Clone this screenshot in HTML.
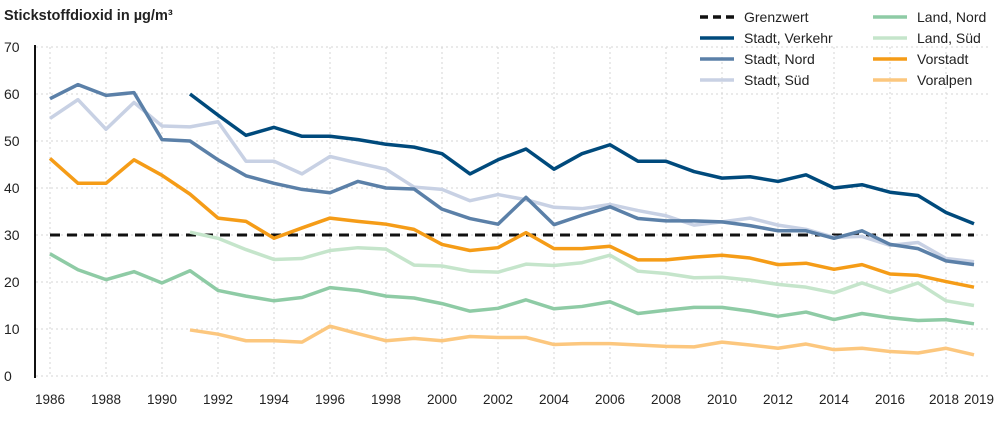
<!DOCTYPE html>
<html><head><meta charset="utf-8"><style>
body{margin:0;background:#fff;font-family:"Liberation Sans",sans-serif}
svg text{font-family:"Liberation Sans",sans-serif;fill:#222}
</style></head><body>
<svg id="c" width="1001" height="416"></svg>
<script>
const years=[];for(let y=1986;y<=2019;y++)years.push(y);
const verkehr=[null,null,null,null,null,60,55.5,51.2,52.9,51,51,50.3,49.3,48.7,47.3,43,46,48.3,44,47.3,49.2,45.7,45.7,43.5,42.1,42.4,41.4,42.8,40,40.7,39.1,38.4,34.8,32.4];
const nord=[59,62,59.7,60.3,50.3,50,46,42.6,41,39.7,39,41.4,40,39.8,35.5,33.5,32.3,38,32.2,34.2,36,33.5,33,33,32.8,32,30.9,30.9,29.3,30.9,28,27.1,24.5,23.7];
const sued=[54.8,58.8,52.5,58.2,53.2,53,54.1,45.7,45.7,43,46.7,45.3,44,40.2,39.7,37.3,38.6,37.5,35.9,35.6,36.5,35.2,34.1,32.1,32.8,33.6,32.1,31.2,29.5,29.7,27.8,28.4,25,24.3];
const vorstadt=[46.3,41,41,46,42.7,38.7,33.6,32.9,29.3,31.5,33.6,32.9,32.3,31.2,28,26.7,27.3,30.5,27.1,27.1,27.6,24.7,24.7,25.3,25.7,25.1,23.7,24,22.7,23.7,21.7,21.4,20.1,18.9];
const landSued=[null,null,null,null,null,30.6,29.3,26.9,24.8,25,26.7,27.3,27,23.6,23.4,22.3,22.1,23.8,23.5,24.1,25.7,22.3,21.8,20.9,21,20.4,19.5,18.9,17.7,19.8,17.8,19.8,16,15];
const landNord=[26,22.6,20.5,22.2,19.8,22.4,18.2,17,16,16.7,18.8,18.2,17,16.6,15.4,13.8,14.4,16.2,14.3,14.8,15.8,13.3,14,14.6,14.6,13.8,12.7,13.6,12,13.3,12.4,11.8,12,11.1];
const voralpen=[null,null,null,null,null,9.8,8.9,7.5,7.5,7.2,10.6,9,7.5,8,7.5,8.4,8.2,8.2,6.7,6.9,6.9,6.6,6.3,6.2,7.2,6.6,5.9,6.8,5.6,5.9,5.2,4.9,5.9,4.5];
const grenzwert=30;
const yTicks=[0,10,20,30,40,50,60,70];
const xTicks=[1986,1988,1990,1992,1994,1996,1998,2000,2002,2004,2006,2008,2010,2012,2014,2016,2018,2019];
const X=y=>50+(y-1986)*28, Y=v=>376-v*4.7;
const svg=document.getElementById('c'),NS='http://www.w3.org/2000/svg';
function el(t,a,txt){const e=document.createElementNS(NS,t);for(const k in a)e.setAttribute(k,a[k]);if(txt!=null)e.textContent=txt;svg.appendChild(e);return e;}
yTicks.forEach(v=>{
 const g=el('line',{x1:36,x2:990,y1:Y(v),y2:Y(v),stroke:'#d4d4d4','stroke-dasharray':'2,3'});
 
 
 const t=el('text',{x:4,y:Y(v)+5,'font-size':14},v);
 
 
});
xTicks.forEach(yr=>{
 if(yr%2===0){const g=el('line',{x1:X(yr),x2:X(yr),y1:47,y2:376,stroke:'#d4d4d4','stroke-dasharray':'2,3'});
 
 }
 const t=el('text',{x:X(yr)+(yr===2019?5:(yr===2018?-2:0)),y:404,'font-size':13.5,'text-anchor':'middle'},yr);
 
 
});
const ax=el('line',{x1:35,x2:35,y1:45,y2:378,stroke:'#111','stroke-width':2});


const tt=el('text',{x:4,y:20,'font-size':14.5,'font-weight':'bold'},'Stickstoffdioxid in µg/m³');


const gl=el('line',{x1:X(1986),x2:X(2019),y1:Y(grenzwert),y2:Y(grenzwert),stroke:'#111','stroke-width':3,'stroke-dasharray':'10,7'});


const series=[
 ['voralpen',voralpen,'#fcc77e'],['land-nord',landNord,'#8ecba5'],['land-sued',landSued,'#c5e5cb'],
 ['vorstadt',vorstadt,'#f59c17'],['stadt-sued',sued,'#c8d1e4'],['stadt-nord',nord,'#5b80a8'],['stadt-verkehr',verkehr,'#004a7c']];
series.forEach(([n,d,c])=>{
 let p='';d.forEach((v,i)=>{if(v==null)return;p+=(p?'L':'M')+X(years[i])+','+Y(v);});
 const e=el('path',{d:p,fill:'none',stroke:c,'stroke-width':3.5,'stroke-linejoin':'round'});
 
 
});
const leg=[['Grenzwert','#111',700,17,true],['Stadt, Verkehr','#004a7c',700,38],['Stadt, Nord','#5b80a8',700,59],['Stadt, Süd','#c8d1e4',700,80],
 ['Land, Nord','#8ecba5',873,17],['Land, Süd','#c5e5cb',873,38],['Vorstadt','#f59c17',873,59],['Voralpen','#fcc77e',873,80]];
leg.forEach(([l,c,x,y,d])=>{
 const a={x1:x,x2:x+34,y1:y,y2:y,stroke:c,'stroke-width':3.5};if(d)a['stroke-dasharray']='8,5';
 const s=el('line',a);
 
 
 const t=el('text',{x:x+44,y:y+5,'font-size':14},l);
 
 
});
</script>
</body></html>
